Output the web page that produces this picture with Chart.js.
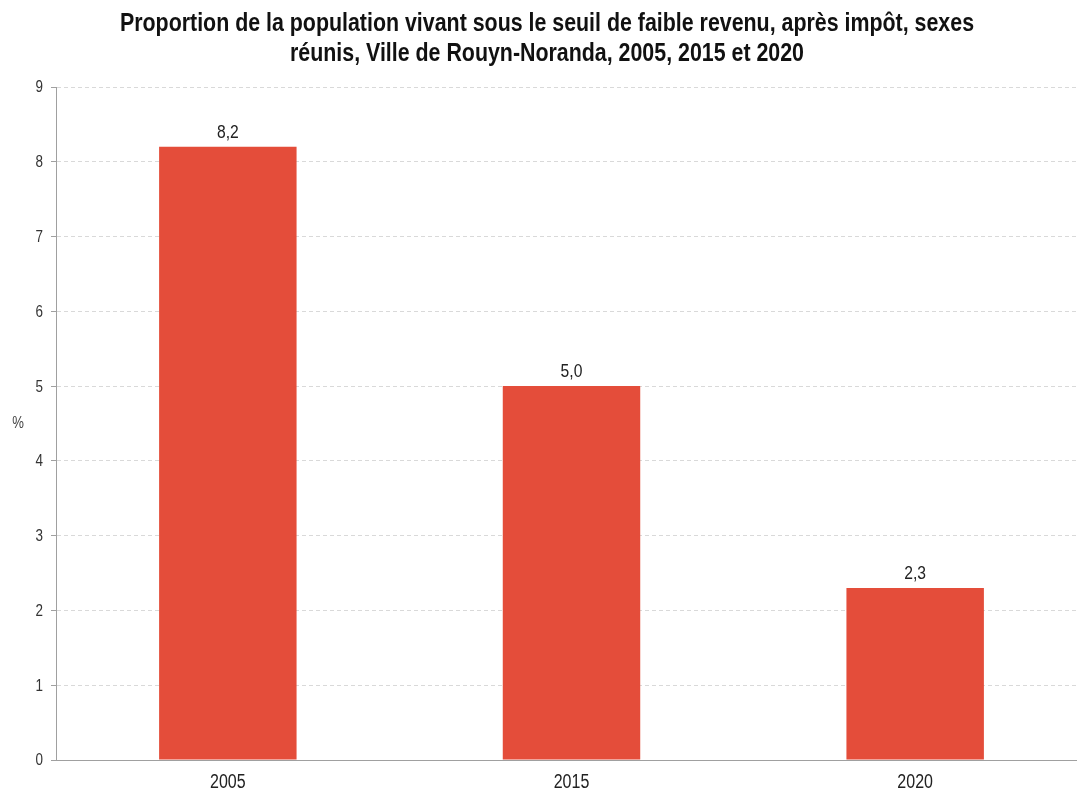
<!DOCTYPE html>
<html>
<head>
<meta charset="utf-8">
<script src="https://cdn.jsdelivr.net/npm/chart.js@4"></script>
<style>
  html, body { margin: 0; padding: 0; background: #fff; overflow: hidden; }
  #wrap { width: 1095px; height: 793px; }
</style>
</head>
<body>
<div id="wrap"><canvas id="c" width="1095" height="793"></canvas></div>
<script>
const titleLines = ["Proportion de la population vivant sous le seuil de faible revenu, après impôt, sexes", "réunis, Ville de Rouyn-Noranda, 2005, 2015 et 2020"];
const categories = ["2005", "2015", "2020"];
const values = [8.2, 5.0, 2.3];
const yTicks = [0, 1, 2, 3, 4, 5, 6, 7, 8, 9];
const yAxisLabel = "%";

const FONT = "'Liberation Sans', Arial, sans-serif";

function narrowText(ctx, text, x, y, font, sx, align, baseline, color) {
  ctx.save();
  ctx.font = font;
  ctx.fillStyle = color;
  ctx.textAlign = align;
  ctx.textBaseline = baseline;
  ctx.translate(x, y);
  ctx.scale(sx, 1);
  ctx.fillText(text, 0, 0);
  ctx.restore();
}

const extras = {
  id: 'extras',
  afterDraw(chart) {
    const ctx = chart.ctx;
    // title
    narrowText(ctx, titleLines[0], 547, 31, "bold 25px " + FONT, 0.855, 'center', 'alphabetic', '#111');
    narrowText(ctx, titleLines[1], 547, 61, "bold 25px " + FONT, 0.855, 'center', 'alphabetic', '#111');
    // axis label
    narrowText(ctx, yAxisLabel, 18, 424, "16px " + FONT, 0.82, 'center', 'middle', '#444');
    // y tick labels
    const ys = chart.scales.y;
    ys.ticks.forEach((t, i) => {
      narrowText(ctx, String(t.value), ys.right - 13, ys.getPixelForTick(i) + 1, "16px " + FONT, 0.84, 'right', 'middle', '#333');
    });
    // x tick labels
    const xs = chart.scales.x;
    xs.ticks.forEach((t, i) => {
      narrowText(ctx, categories[i], xs.getPixelForTick(i), xs.top + 22, "20px " + FONT, 0.8, 'center', 'middle', '#222');
    });
    // data labels
    const meta = chart.getDatasetMeta(0);
    meta.data.forEach((bar, i) => {
      narrowText(ctx, values[i].toFixed(1).replace('.', ','), bar.x, bar.y - 9, "18px " + FONT, 0.87, 'center', 'alphabetic', '#222');
    });
  }
};

new Chart(document.getElementById('c'), {
  type: 'bar',
  data: {
    labels: categories,
    datasets: [{
      data: values,
      backgroundColor: '#e44d3a',
      borderWidth: 0,
      barPercentage: 0.8,
      categoryPercentage: 0.5
    }]
  },
  options: {
    responsive: false,
    animation: false,
    devicePixelRatio: 1,
    layout: { padding: { top: 87, left: 0, right: 8, bottom: 0 } },
    plugins: { legend: { display: false }, title: { display: false }, tooltip: { enabled: false } },
    scales: {
      x: {
        grid: { display: false },
        border: { display: true, color: '#a0a0a0', width: 1 },
        ticks: { display: false },
        afterFit(s) { s.height = 33; }
      },
      y: {
        min: 0,
        max: 9,
        afterBuildTicks(s) { s.ticks = yTicks.map(v => ({ value: v })); },
        grid: {
          color: '#d9d9d9',
          tickColor: '#a0a0a0',
          tickLength: 5,
          tickBorderDash: [],
          drawTicks: true
        },
        border: { display: true, color: '#a0a0a0', width: 1, dash: [4, 3] },
        ticks: { display: false },
        afterFit(s) { s.width = 56; }
      }
    }
  },
  plugins: [extras]
});
</script>
</body>
</html>
